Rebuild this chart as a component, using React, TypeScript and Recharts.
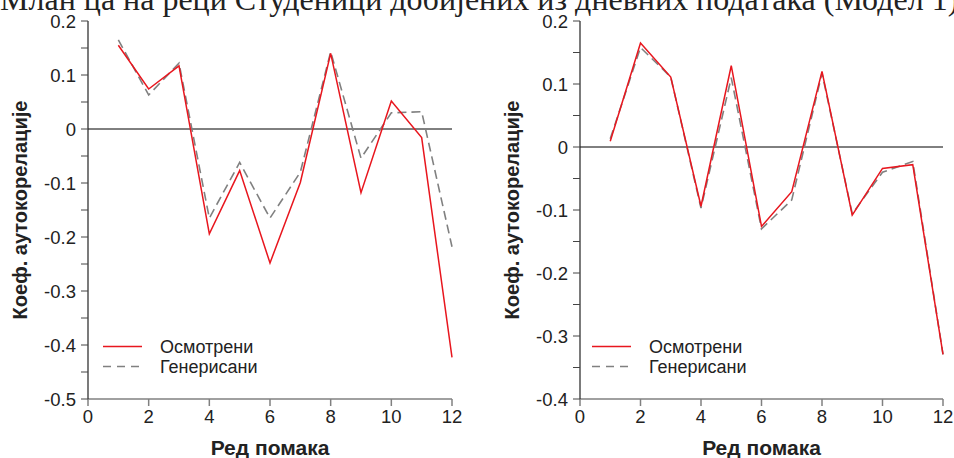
import { LineChart, Line, XAxis, YAxis, ReferenceLine } from "recharts";

const lags = [1, 2, 3, 4, 5, 6, 7, 8, 9, 10, 11, 12];
const xTicks = [0, 2, 4, 6, 8, 10, 12];

const leftObserved = [0.155, 0.074, 0.117, -0.194, -0.077, -0.248, -0.099, 0.14, -0.118, 0.052, -0.016, -0.423];
const leftGenerated = [0.165, 0.063, 0.122, -0.165, -0.062, -0.165, -0.08, 0.143, -0.054, 0.03, 0.032, -0.218];
const leftYTicks = [-0.5, -0.45, -0.4, -0.35, -0.3, -0.25, -0.2, -0.15, -0.1, -0.05, 0, 0.05, 0.1, 0.15, 0.2];

const rightObserved = [0.009, 0.165, 0.111, -0.094, 0.129, -0.126, -0.071, 0.12, -0.108, -0.034, -0.028, -0.329];
const rightGenerated = [0.013, 0.158, 0.111, -0.097, 0.11, -0.13, -0.084, 0.117, -0.106, -0.04, -0.023, -0.329];
const rightYTicks = [-0.4, -0.35, -0.3, -0.25, -0.2, -0.15, -0.1, -0.05, 0, 0.05, 0.1, 0.15, 0.2];

const title = "Млан ца на реци Студеници добијених из дневних података (Модел 1)";
const yLabel = "Коеф. аутокорелације";
const xLabel = "Ред помака";
const observedName = "Осмотрени";
const generatedName = "Генерисани";

const FONT = "'Liberation Sans', Arial, sans-serif";
const RED = "#e8161e";
const GRAY = "#808080";

function rows(obs: number[], gen: number[]) {
  return lags.map((lag, i) => ({ lag, obs: obs[i], gen: gen[i] }));
}

function YTick(props: any) {
  const { x, y, payload } = props;
  const v = payload.value;
  const major = Math.abs(v * 10 - Math.round(v * 10)) < 1e-6;
  if (!major) return null;
  const label = Math.abs(v) < 1e-9 ? "0" : String(Math.round(v * 10) / 10);
  return (
    <text x={x} y={y} dy="0.36em" textAnchor="end" fontSize={18.5} fill="#222" fontFamily={FONT}>
      {label}
    </text>
  );
}

function XTick(props: any) {
  const { x, y, payload } = props;
  return (
    <text x={x} y={y} dy="0.8em" textAnchor="middle" fontSize={18.5} fill="#222" fontFamily={FONT}>
      {payload.value}
    </text>
  );
}

function YLabel(props: any) {
  const vb = props.viewBox;
  const cx = vb.x + 20;
  const cy = vb.y + vb.height / 2;
  return (
    <text x={cx} y={cy} transform={`rotate(-90 ${cx} ${cy})`} textAnchor="middle" dy="0.36em"
      fontSize={20} fontWeight="bold" fill="#222" fontFamily={FONT}>
      {yLabel}
    </text>
  );
}

function XLabel(props: any) {
  const vb = props.viewBox;
  return (
    <text x={vb.x + vb.width / 2} y={vb.y + 56} textAnchor="middle"
      fontSize={21} fontWeight="bold" fill="#222" fontFamily={FONT}>
      {xLabel}
    </text>
  );
}

function LegendBox({ left }: { left: number }) {
  return (
    <svg width={200} height={50} style={{ position: "absolute", left, top: 330 }}>
      <line x1={3} x2={42} y1={16.5} y2={16.5} stroke={RED} strokeWidth={1.5} />
      <text x={60} y={22.5} fontSize={18} fill="#222" fontFamily={FONT}>{observedName}</text>
      <line x1={3} x2={42} y1={36.5} y2={36.5} stroke={GRAY} strokeWidth={1.5} strokeDasharray="8 6" />
      <text x={60} y={42.5} fontSize={18} fill="#222" fontFamily={FONT}>{generatedName}</text>
    </svg>
  );
}

function Panel({ obs, gen, yTicks, marginLeft, marginRight }: any) {
  const data = rows(obs, gen);
  return (
    <LineChart width={477} height={458} data={data}
      margin={{ top: 21, right: marginRight, bottom: 0, left: marginLeft }}>
      <XAxis type="number" dataKey="lag" domain={[0, 12]} ticks={xTicks} height={59}
        axisLine={{ stroke: GRAY, strokeWidth: 1.5 }} tickLine={{ stroke: GRAY, strokeWidth: 1.5 }}
        tickSize={7} tick={<XTick />} label={<XLabel />} />
      <YAxis type="number" domain={[yTicks[0], yTicks[yTicks.length - 1]]} ticks={yTicks} width={88}
        interval={0} axisLine={{ stroke: "#222", strokeWidth: 1.2 }} tickLine={{ stroke: "#444" }}
        tickSize={7} tickMargin={5} tick={<YTick />} label={<YLabel />} />
      <ReferenceLine y={0} stroke="#000" strokeWidth={1} />
      <Line type="linear" dataKey="gen" stroke={GRAY} strokeWidth={1.6} strokeDasharray="9 5"
        dot={false} isAnimationActive={false} />
      <Line type="linear" dataKey="obs" stroke={RED} strokeWidth={1.5}
        dot={false} isAnimationActive={false} />
    </LineChart>
  );
}

export default function App() {
  return (
    <div style={{ position: "absolute", left: 0, top: 0, width: 954, height: 458, overflow: "hidden", background: "#fff" }}>
      <div style={{ position: "absolute", left: 0, top: -19, whiteSpace: "nowrap",
        fontFamily: "'Liberation Serif', 'Times New Roman', serif", fontSize: 32, color: "#222", lineHeight: "normal" }}>
        {title}
      </div>
      <div style={{ position: "absolute", left: 0, top: 0 }}>
        <Panel obs={leftObserved} gen={leftGenerated} yTicks={leftYTicks} marginLeft={0} marginRight={25} />
        <LegendBox left={100} />
      </div>
      <div style={{ position: "absolute", left: 477, top: 0 }}>
        <Panel obs={rightObserved} gen={rightGenerated} yTicks={rightYTicks} marginLeft={15} marginRight={11} />
        <LegendBox left={112} />
      </div>
    </div>
  );
}
